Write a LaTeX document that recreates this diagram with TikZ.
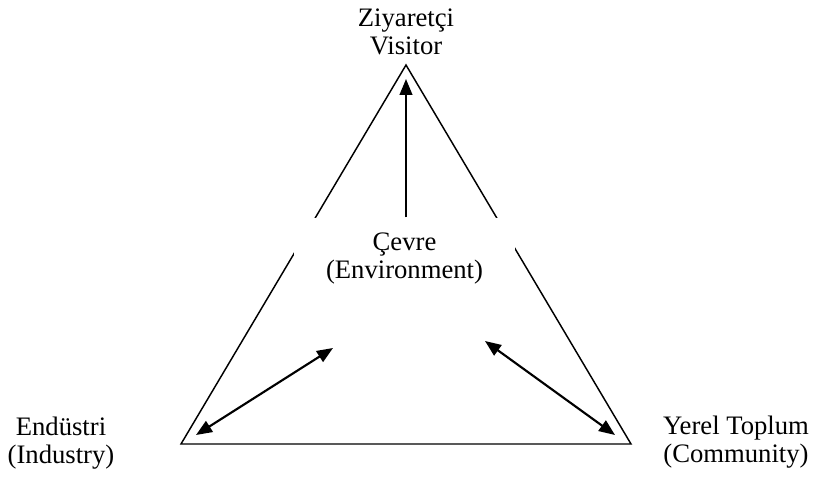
\documentclass[tikz,border=0pt]{standalone}
\usepackage{fontspec}
\setmainfont{Liberation Serif}
\usetikzlibrary{arrows.meta,positioning}

\begin{document}
\begin{tikzpicture}[x=0.75pt,y=-0.75pt,
    >={Triangle[length=12pt,width=9.5pt]},
    lbl/.style={align=center,inner sep=0pt,font=\fontsize{20}{21}\selectfont},
    link/.style={line width=1.6pt}]
    \useasboundingbox (0,0) rectangle (815,478);

    \coordinate (top) at (406,65);
    \coordinate (left) at (181,444);
    \coordinate (right) at (631,444);
    \draw[line width=1.1pt] (top) -- (left) -- (right) -- cycle;

    % the white box covers the sides of the triangle
    \node[lbl, fill=white, minimum width=166pt, minimum height=62pt] (env) at (404.5,259) {Çevre\\(Environment)};

    \node[lbl] (visitor) at (406,32) {Ziyaretçi\\Visitor};
    \node[lbl] (industry) at (61,443) {Endüstri\\(Industry)};
    \node[lbl] (community) at (736,442) {Yerel Toplum\\(Community)};

    \coordinate (visTip) at (406,79);
    \coordinate (indTip) at (196,435);
    \coordinate (envL) at (333,348);
    \coordinate (envR) at (485,341);
    \coordinate (comTip) at (615,435);

    \draw[link,->] (env.north -| visTip) -- (visTip);
    \draw[link,<->] (indTip) -- (envL);
    \draw[link,<->] (envR) -- (comTip);
\end{tikzpicture}
\end{document}
